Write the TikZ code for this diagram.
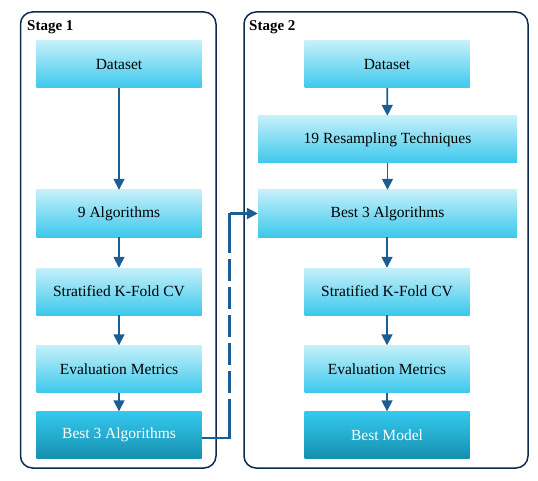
\documentclass[tikz,border=0pt]{standalone}
\usepackage{fontspec}
\setmainfont{Liberation Serif}
\usetikzlibrary{arrows.meta}
\definecolor{frame}{HTML}{0E2A4F}
\definecolor{arr}{HTML}{1B5E94}
\definecolor{ltop}{HTML}{C5F0FA}
\definecolor{lbot}{HTML}{3CC8EC}
\definecolor{dtop}{HTML}{35C9EF}
\definecolor{dbot}{HTML}{1590AF}
\tikzset{
  x=1pt, y=-1pt,
  stagebox/.style={draw=frame, line width=1.5pt, rounded corners=12pt},
  stagelabel/.style={anchor=base west, inner sep=0pt, font=\fontsize{15}{18}\selectfont\bfseries},
  lightbox/.style={minimum height=47pt, inner sep=0pt, top color=ltop, bottom color=lbot, draw=none, text=black, font=\fontsize{15.5}{18}\selectfont},
  darkbox/.style={minimum height=47pt, inner sep=0pt, top color=dtop, bottom color=dbot, draw=none, text=white, font=\fontsize{15.5}{18}\selectfont},
  narrow/.style={minimum width=165pt},
  wide/.style={minimum width=259pt},
  flow/.style={draw=arr, line width=1.7pt, -{Triangle[width=11pt,length=11pt]}},
  link/.style={draw=arr, line width=2.2pt},
}
\begin{document}
\begin{tikzpicture}
\useasboundingbox (0,0) rectangle (538,481);
% frames
\draw[stagebox] (20.5,12) rectangle (216,468);
\draw[stagebox] (244,12) rectangle (528,468);
\node[stagelabel] (l1) at (27,31) {Stage 1};
\node[stagelabel] (l2) at (249,31) {Stage 2};
% stage 1
\node[lightbox, narrow] (d1) at (119,64.5) {Dataset};
\node[lightbox, narrow] (a1) at (119,213.5) {9 Algorithms};
\node[lightbox, narrow] (s1) at (119,291.5) {Stratified K-Fold CV};
\node[lightbox, narrow] (e1) at (119,369) {Evaluation Metrics};
\node[darkbox, narrow] (b1) at (119,435) {Best 3 Algorithms};
% stage 2
\node[lightbox, narrow] (d2) at (387,64.5) {Dataset};
\node[lightbox, wide] (r2) at (387.5,139.5) {19 Resampling Techniques};
\node[lightbox, wide] (b2) at (387.5,213.5) {Best 3 Algorithms};
\node[lightbox, narrow] (s2) at (387,291.5) {Stratified K-Fold CV};
\node[lightbox, narrow] (e2) at (387,369) {Evaluation Metrics};
\node[darkbox, narrow] (m2) at (387,435) {Best Model};
% arrows
\draw[flow] (d1) -- (a1);
\draw[flow] (a1) -- (s1);
\draw[flow] (s1) -- (e1);
\draw[flow] (e1) -- (b1);
\draw[flow] (d2) -- (r2);
\draw[flow] (r2) -- (b2);
\draw[flow] (b2.south -| s2) -- (s2);
\draw[flow] (s2) -- (e2);
\draw[flow] (e2) -- (m2);
% cross link
\coordinate (cb) at (229.5,438);
\coordinate (ct) at (229.5,213.5);
\coordinate (cbm) at (229.5,421);
\coordinate (ctm) at (229.5,243);
\draw[link] (b1.east |- cb) -- (cb) -- (cbm);
\draw[link, line width=2.4pt, dash pattern=on 22pt off 6pt] (cbm) -- (ctm);
\draw[link] (ctm) -- (ct);
\draw[flow, line width=2.2pt] (ct) -- (b2.west);
\end{tikzpicture}
\end{document}
